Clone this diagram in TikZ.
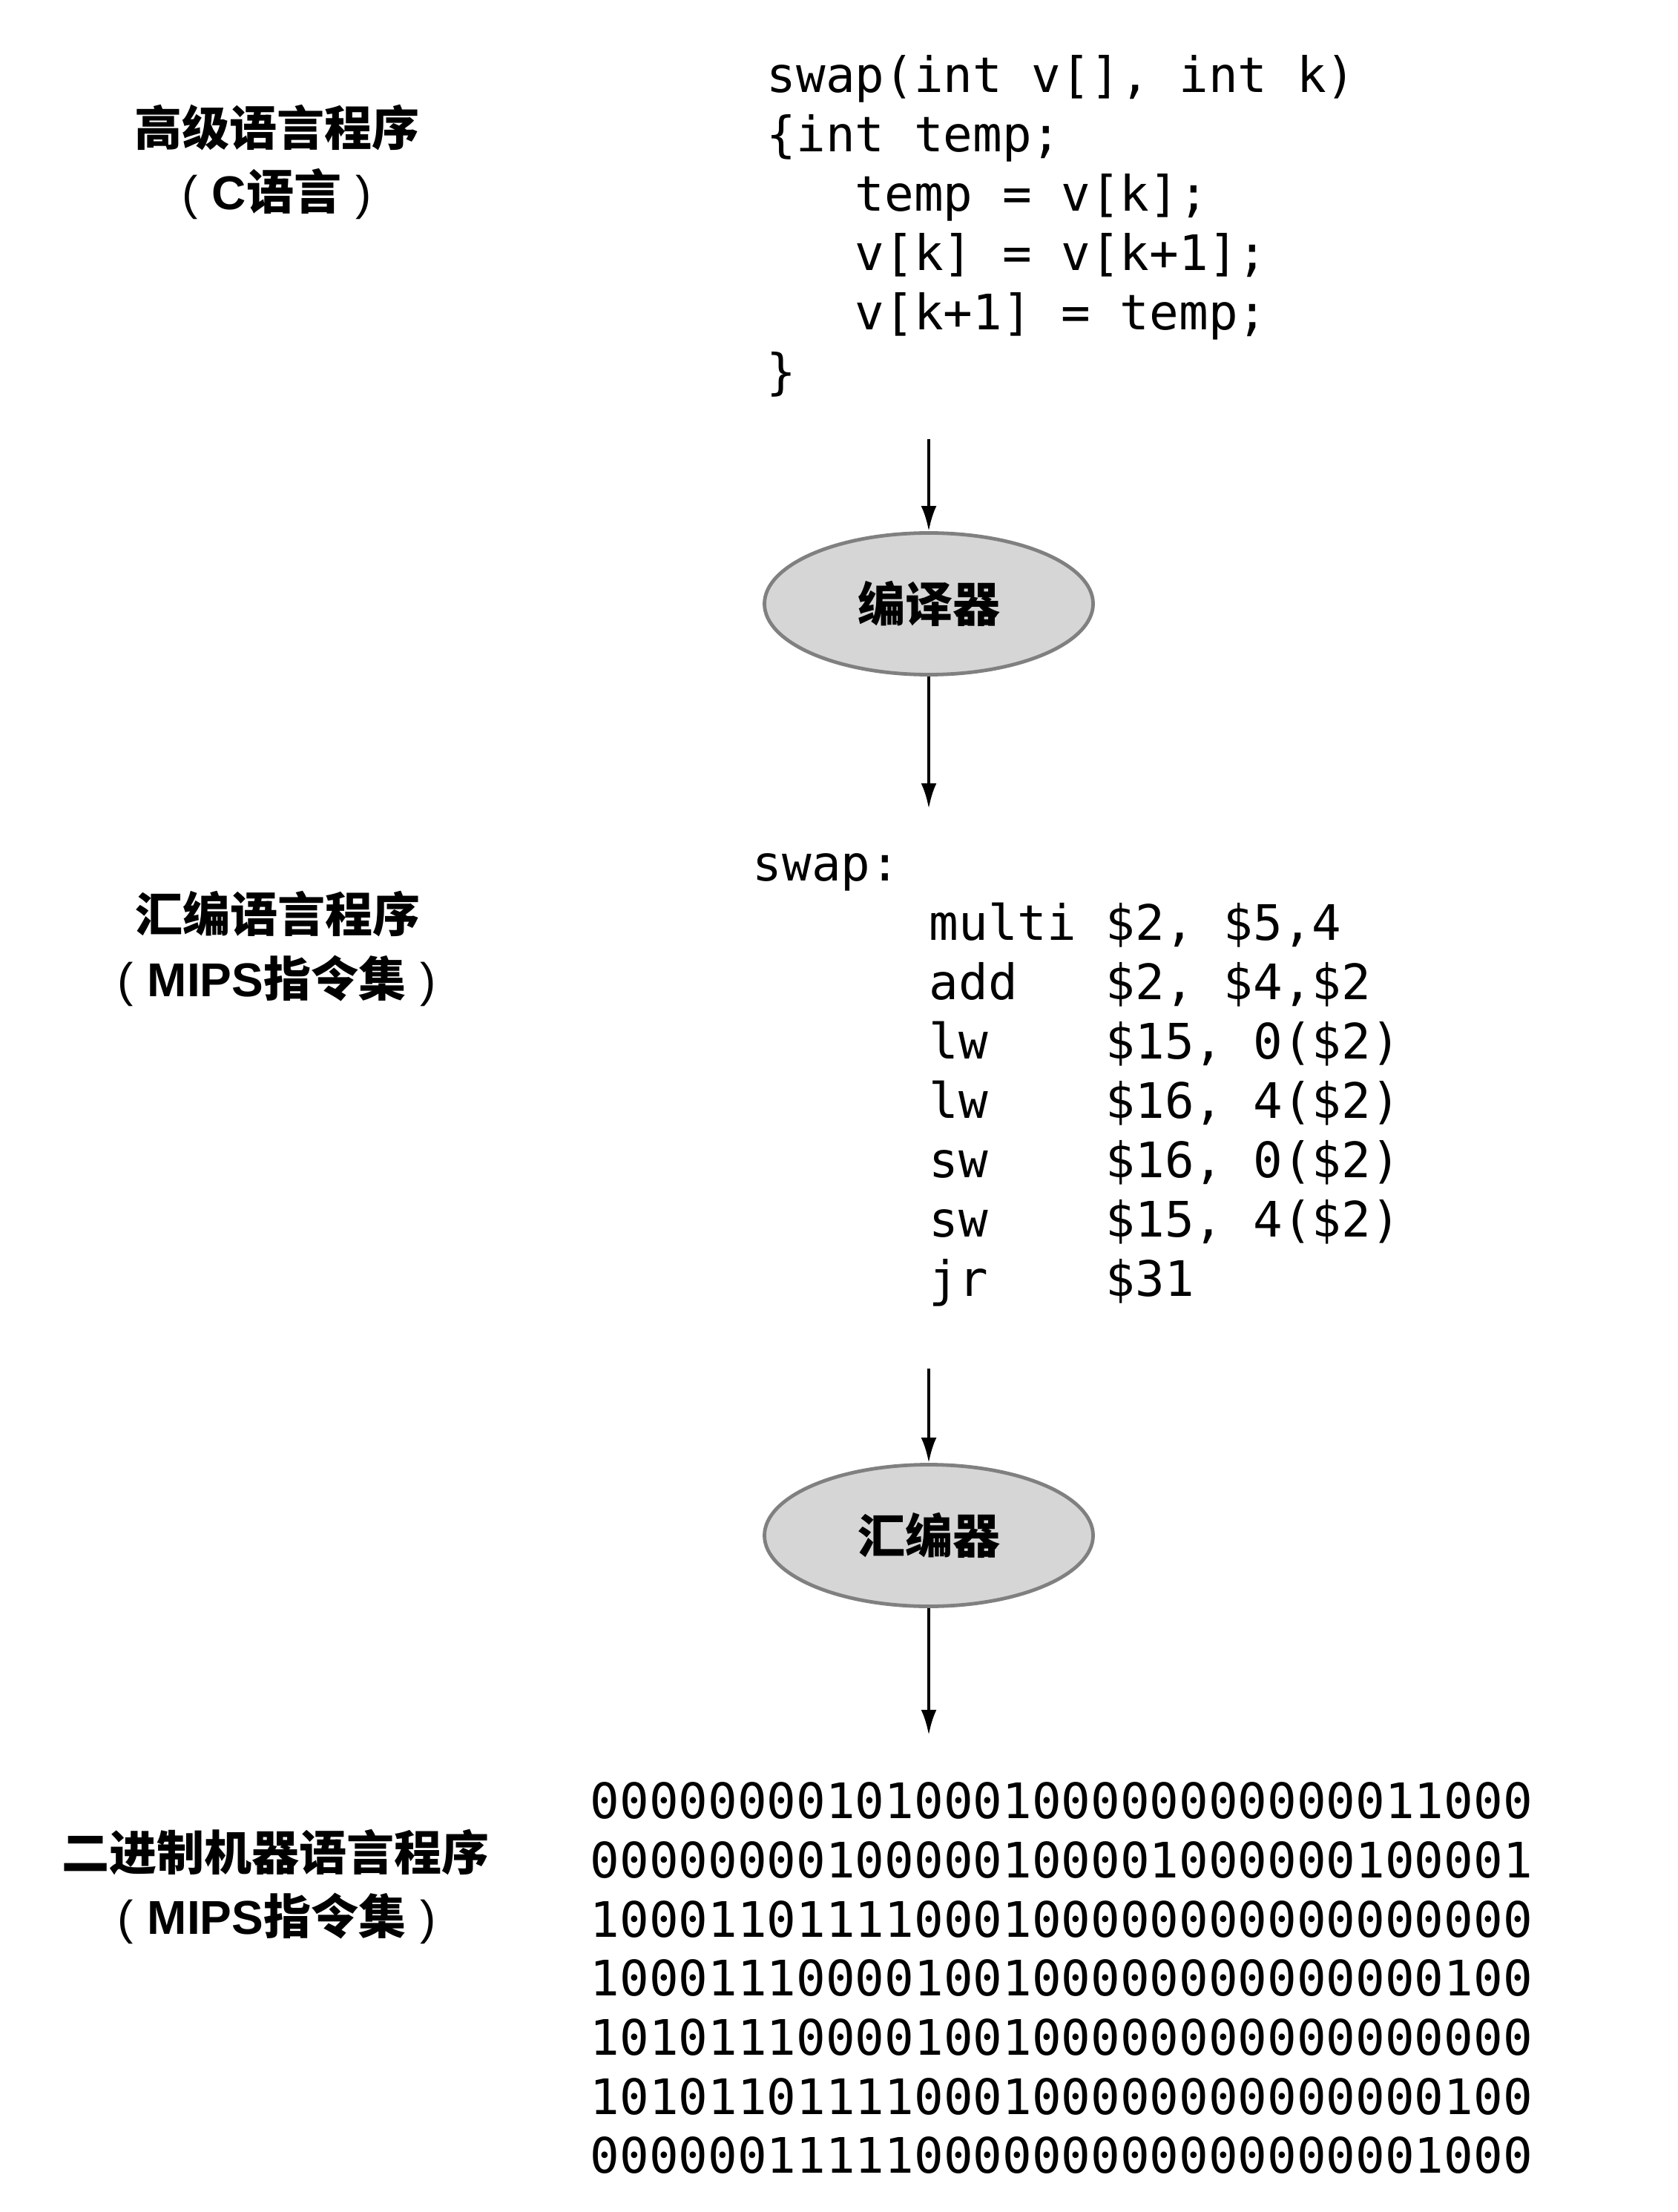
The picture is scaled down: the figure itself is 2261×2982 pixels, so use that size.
\documentclass[tikz,border=0pt]{standalone}
\usepackage{fontspec}
\usetikzlibrary{arrows.meta,shapes.geometric}
\newfontfamily\cjk{Noto Sans CJK SC}
\newfontfamily\lat{Liberation Sans}
\newfontfamily\codefont{DejaVu Sans Mono}
\newcommand\opn{{\lat\mdseries(\hspace{0.3em})}}
\newcommand\cls{{\lat\mdseries\hspace{0.3em})}}
\begin{document}
\begin{tikzpicture}[x=0.25pt,y=-0.25pt,
  lbl/.style={font=\cjk\bfseries\fontsize{16}{16}\selectfont, inner sep=0pt},
  code/.style={font=\codefont\fontsize{16.48}{20}\selectfont, anchor=base west, inner sep=0pt},
  tool/.style={ellipse, draw=black!50, line width=1.2pt, fill=black!16,
    minimum width=110.75pt, minimum height=47.75pt, inner sep=0pt,
    font=\cjk\bfseries\fontsize{16}{16}\selectfont},
  flow/.style={-{Latex[length=8.5pt,width=5.2pt]}, line width=1.1pt}]
\useasboundingbox (0,0) rectangle (2261,2982);

% left labels
\node[lbl] (l1a) at (373,172) {高级语言程序};
\node[lbl] (l1b) at (373,262) {{\lat\mdseries(\hspace{0.3em}}{\lat\bfseries C}语言{\lat\mdseries\hspace{0.3em})}};
\node[lbl] (l2a) at (374,1232) {汇编语言程序};
\node[lbl] (l2b) at (373,1322) {{\lat\mdseries(\hspace{0.3em}}{\lat\bfseries MIPS}指令集{\lat\mdseries\hspace{0.3em})}};
\node[lbl] (l3a) at (371,2497) {二进制机器语言程序};
\node[lbl] (l3b) at (373,2586) {{\lat\mdseries(\hspace{0.3em}}{\lat\bfseries MIPS}指令集{\lat\mdseries\hspace{0.3em})}};

% C code
\node[code] (c1) at (1033,125) {swap(int v[], int k)};
\node[code] (c2) at (1033,205) {\{int temp;};
\node[code] (c3) at (1152,285) {temp = v[k];};
\node[code] (c4) at (1152,365) {v[k] = v[k+1];};
\node[code] (c5) at (1152,445) {v[k+1] = temp;};
\node[code] (c6) at (1033,525) {\}};

% tools
\node[tool] (comp) at (1252,814) {编译器};
\node[tool] (asm) at (1252,2070) {汇编器};

% assembly
\node[code] (a0) at (1014,1187) {swap:};
\node[code] (a1) at (1252,1267) {multi\ \$2, \$5,4};
\node[code] (a2) at (1252,1347) {add\ \ \ \$2, \$4,\$2};
\node[code] (a3) at (1252,1427) {lw\ \ \ \ \$15, 0(\$2)};
\node[code] (a4) at (1252,1507) {lw\ \ \ \ \$16, 4(\$2)};
\node[code] (a5) at (1252,1587) {sw\ \ \ \ \$16, 0(\$2)};
\node[code] (a6) at (1252,1667) {sw\ \ \ \ \$15, 4(\$2)};
\node[code] (a7) at (1252,1747) {jr\ \ \ \ \$31};

% binary
\node[code] (b1) at (795,2451) {00000000101000100000000000011000};
\node[code] (b2) at (795,2531) {00000000100000100001000000100001};
\node[code] (b3) at (795,2611) {10001101111000100000000000000000};
\node[code] (b4) at (795,2690) {10001110000100100000000000000100};
\node[code] (b5) at (795,2770) {10101110000100100000000000000000};
\node[code] (b6) at (795,2850) {10101101111000100000000000000100};
\node[code] (b7) at (795,2929) {00000011111000000000000000001000};

% connectors
\coordinate (s1) at (1252,592);
\coordinate (e2) at (1252,1090);
\coordinate (s3) at (1252,1845);
\coordinate (e4) at (1252,2339);
\draw[flow] (s1) -- (comp.north);
\draw[flow] (comp.south) -- (e2);
\draw[flow] (s3) -- (asm.north);
\draw[flow] (asm.south) -- (e4);
\end{tikzpicture}
\end{document}
